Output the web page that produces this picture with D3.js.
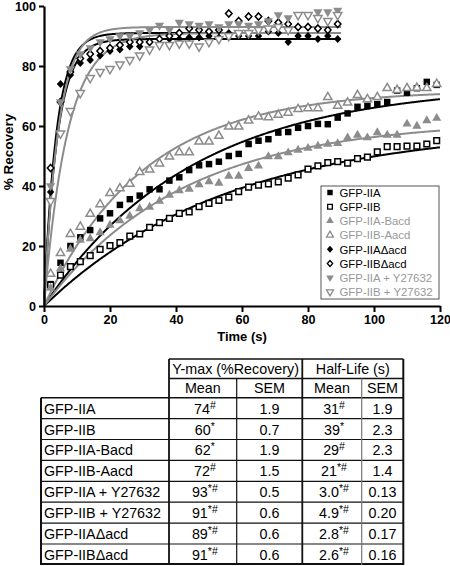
<!DOCTYPE html>
<html><head><meta charset="utf-8">
<script src="https://cdn.jsdelivr.net/npm/d3@7"></script>
<style>
body{margin:0;background:#fff;}
svg{display:block;font-family:"Liberation Sans",Arial,sans-serif;}
</style></head>
<body><svg id="c" width="450" height="566"></svg>
<script>
// ---------- data ----------
const slowTimes = [2,5,8,11,14,17,20,23,26,29,32,35,38,41,44,47,50,53,56,59,62,65,68,71,74,77,80,83,86,89,92,95,98,101,104,107,110,113,116,119];
const fastTimes = [2,5,8,11,14,17,20,23,26,29,32,35,38,41,44,47,50,53,56,59,62,65,68,71,74,77,80,83,86,89];

const iiA = [7.3,14.4,20,22.9,25.3,29.2,30.9,33.7,35.6,36.8,38.9,38.9,41.8,42.9,45.3,46.9,47.3,48.1,50,50.7,54,55.1,55.6,57.8,58,59.4,60,60.7,60.6,62.8,64.2,66.4,66.7,67.3,68,71.8,71.1,72.6,74.7,73.7];
const iiB = [7,10.3,13.1,14.8,16.8,18.9,20.1,21.1,23.3,24,26.2,27.8,29.2,30.9,31.4,33.1,34.2,35.2,36.3,38.1,39.6,40.3,40.7,41.4,42.6,43.7,45.6,46.7,47.8,48.1,47.6,49.1,49.6,51.4,53.1,53.1,53.3,53.3,54,55.1];
const iiABacd = [6,12.5,19,22,22.5,24.5,27,28.5,30,32.5,33,35,37,38.5,39,40.5,41.5,41,43.3,43.3,45.9,46.7,49.8,49.8,51.1,52,52.6,53.3,54,54.2,56.1,57,56.1,57.8,57,57,60.7,60,61.8,62.6];
const iiBAacd = [10.7,17.6,24,26.4,30.7,33.9,37.6,39.2,40.7,44.6,45.5,47.5,49.8,51.2,51.2,54.8,54.8,56.7,59.8,59.8,61.8,63.1,62.9,63.7,64.4,65.6,65.9,65.9,69.6,66.7,67.8,70.3,68.9,69.6,72.6,72,72.6,72.7,72.6,74];
const iiAdacd = [38,74,77,81,82,83.5,85,85.5,86.5,86.5,88,89,89,89,89.5,89.5,90,89.5,91,90,90,90,91.5,91,88,90,90,89,90,89];
const iiBdacd = [46,68,78,82.5,84,85,86,87,88,88,88,89,90,91,92.5,92,91.5,92,97.5,95,96.5,96.5,95,94.5,94,93,93,92.5,92,94];
const iiAY = [40,68,79,84,86,88,89,90,90,91,92,93.5,92,94.5,94,93.5,94,93,94,94,93.5,94,95,97,96,97,97,98,98,98.5];
const iiBY = [35,57.5,65,71,76,78,79,80.5,82,83.5,85.5,87,87,87.5,87.5,86.5,88,89,90,91,91,92,92.5,93,92,97,97,96,95,97];

const seriesNames = ["GFP-IIA","GFP-IIB","GFP-IIA-Bacd","GFP-IIB-Aacd","GFP-IIA\u0394acd","GFP-IIB\u0394acd","GFP-IIA + Y27632","GFP-IIB + Y27632"];
const seriesValues = [iiA,iiB,iiABacd,iiBAacd,iiAdacd,iiBdacd,iiAY,iiBY];
const seriesTimes = [slowTimes,slowTimes,slowTimes,slowTimes,fastTimes,fastTimes,fastTimes,fastTimes];
// fit parameters (from table)
const fitYmax = [74,60,62,72,89,91,93,91];
const fitHalfLife = [31,39,29,21,2.8,2.6,3.0,4.9];
const fitEnd = [120,120,120,120,90,90,90,90];

const xTicks = [0,20,40,60,80,100,120];
const yTicks = [0,20,40,60,80,100];

const tableRows = ["GFP-IIA","GFP-IIB","GFP-IIA-Bacd","GFP-IIB-Aacd","GFP-IIA + Y27632","GFP-IIB + Y27632","GFP-IIA\u0394acd","GFP-IIB\u0394acd"];
const ymaxMean = ["74","60","62","72","93","91","89","91"];
const ymaxSup = ["#","*","*","#","*#","*#","*#","*#"];
const ymaxSem = ["1.9","0.7","1.9","1.5","0.5","0.6","0.6","0.6"];
const hlMean = ["31","39","29","21","3.0","4.9","2.8","2.6"];
const hlSup = ["#","*","#","*#","*#","*#","*#","*#"];
const hlSem = ["1.9","2.3","2.3","1.4","0.13","0.20","0.17","0.16"];

// ---------- styles ----------
const GRAY = "#8c8c8c";
const diamond = {draw(ctx,size){const r=Math.sqrt(size/2);ctx.moveTo(0,-r);ctx.lineTo(r*0.9,0);ctx.lineTo(0,r);ctx.lineTo(-r*0.9,0);ctx.closePath();}};
const styles = [
  {sym:d3.symbolSquare, size:42, fill:"#000", stroke:"none", color:"#000", rot:0},
  {sym:d3.symbolSquare, size:32, fill:"#fff", stroke:"#000", color:"#000", rot:0},
  {sym:d3.symbolTriangle, size:36, fill:GRAY, stroke:"none", color:GRAY, rot:0},
  {sym:d3.symbolTriangle, size:30, fill:"#fff", stroke:GRAY, color:GRAY, rot:0},
  {sym:diamond, size:34, fill:"#000", stroke:"none", color:"#000", rot:0},
  {sym:diamond, size:26, fill:"#fff", stroke:"#000", color:"#000", rot:0},
  {sym:d3.symbolTriangle, size:36, fill:GRAY, stroke:"none", color:GRAY, rot:180},
  {sym:d3.symbolTriangle, size:30, fill:"#fff", stroke:GRAY, color:GRAY, rot:180}
];

const svg = d3.select("#c");
const x = d3.scaleLinear().domain([0,120]).range([44,440]);
const y = d3.scaleLinear().domain([0,100]).range([306,6]);

// fit curves
const line = d3.line().x(d=>x(d[0])).y(d=>y(d[1]));
[0,1,2,3,4,5,6,7].forEach(i=>{
  const k = Math.LN2/fitHalfLife[i];
  const pts = [];
  for(let t=0;t<=fitEnd[i]+1e-9;t+=0.25) pts.push([t, fitYmax[i]*(1-Math.exp(-k*t))]);
  svg.append("path").attr("d",line(pts)).attr("fill","none")
    .attr("stroke",styles[i].color).attr("stroke-width",2);
});

// points
seriesValues.forEach((vals,i)=>{
  const st = styles[i];
  const g = svg.append("g");
  vals.forEach((v,j)=>{
    g.append("path")
      .attr("d", d3.symbol().type(st.sym).size(st.size)())
      .attr("transform",`translate(${x(seriesTimes[i][j])},${y(v)}) rotate(${st.rot})`)
      .attr("fill",st.fill).attr("stroke",st.stroke).attr("stroke-width",1.5);
  });
});

// axes
const ax = svg.append("g").attr("transform","translate(0,306)")
  .call(d3.axisBottom(x).tickValues(xTicks).tickSize(6).tickSizeOuter(0).tickPadding(3));
const ay = svg.append("g").attr("transform","translate(44,0)")
  .call(d3.axisLeft(y).tickValues(yTicks).tickSize(5).tickSizeOuter(0).tickPadding(3));
[ax,ay].forEach(a=>{
  a.select(".domain").attr("stroke","#000").attr("stroke-width",2.2);
  a.selectAll(".tick line").attr("stroke","#000").attr("stroke-width",2);
  a.selectAll(".tick text").attr("font-family","'Liberation Sans', Arial, sans-serif")
    .attr("font-size",12.6).attr("font-weight","bold").attr("fill","#000");
});

svg.append("text").attr("x",242).attr("y",341).attr("text-anchor","middle")
  .attr("font-size",13).attr("font-weight","bold").text("Time (s)");
svg.append("text").attr("transform","translate(13,152) rotate(-90)").attr("text-anchor","middle")
  .attr("font-size",13.5).attr("font-weight","bold").text("% Recovery");

// legend
const lg = svg.append("g");
lg.append("rect").attr("x",321).attr("y",186).attr("width",118).attr("height",113)
  .attr("fill","#fff").attr("stroke","#555").attr("stroke-width",1);
seriesNames.forEach((n,i)=>{
  const st = styles[i];
  const yy = 192.5 + i*14.2;
  lg.append("path").attr("d", d3.symbol().type(st.sym).size(st.size*0.7)())
    .attr("transform",`translate(330,${yy}) rotate(${st.rot})`)
    .attr("fill",st.fill).attr("stroke",st.stroke).attr("stroke-width",1.3);
  lg.append("text").attr("x",339.5).attr("y",yy+4.2).attr("font-size",11.4)
    .attr("fill", st.color==="#000" ? "#000" : "#999").text(n);
});

// table
const colX = [41,169,236.7,302.3,361.7,403.3];
const hTop = 359, h2 = 378.5, dTop = 397.7, rowH = 20.9;
const tb = svg.append("g");
const fs = 14.3;
tb.append("text").attr("x",(colX[1]+colX[3])/2).attr("y",h2-5).attr("text-anchor","middle").attr("font-size",fs).text("Y-max (%Recovery)");
tb.append("text").attr("x",(colX[3]+colX[5])/2).attr("y",h2-5).attr("text-anchor","middle").attr("font-size",fs).text("Half-Life (s)");
["Mean","SEM","Mean","SEM"].forEach((s,i)=>{
  tb.append("text").attr("x",(colX[i+1]+colX[i+2])/2).attr("y",dTop-4.5).attr("text-anchor","middle").attr("font-size",fs).text(s);
});
function supText(cx,cy,main,sup){
  const t = tb.append("text").attr("x",cx).attr("y",cy).attr("text-anchor","middle").attr("font-size",fs);
  t.append("tspan").text(main);
  t.append("tspan").attr("font-size",10.5).attr("dy",-5).text(sup);
}
tableRows.forEach((r,i)=>{
  const by = dTop + (i+1)*rowH - 5;
  tb.append("text").attr("x",colX[0]+3).attr("y",by).attr("font-size",fs).text(r);
  supText((colX[1]+colX[2])/2+2, by, ymaxMean[i], ymaxSup[i]);
  tb.append("text").attr("x",(colX[2]+colX[3])/2).attr("y",by).attr("text-anchor","middle").attr("font-size",fs).text(ymaxSem[i]);
  supText((colX[3]+colX[4])/2+2, by, hlMean[i], hlSup[i]);
  tb.append("text").attr("x",(colX[4]+colX[5])/2).attr("y",by).attr("text-anchor","middle").attr("font-size",fs).text(hlSem[i]);
});
const L = (x1,y1,x2,y2,w,c)=>tb.append("line").attr("x1",x1).attr("y1",y1).attr("x2",x2).attr("y2",y2)
  .attr("stroke",c||"#111").attr("stroke-width",w);
const bottom = dTop + 8*rowH;
L(colX[1],hTop,colX[5],hTop,1.6);
L(colX[1],h2,colX[5],h2,1.4);
L(colX[0],dTop,colX[5],dTop,1.6);
for(let i=1;i<8;i++) L(colX[0],dTop+i*rowH,colX[5],dTop+i*rowH,1.2);
L(colX[0],bottom-1,colX[5],bottom-1,2);
L(colX[0],dTop,colX[0],bottom,2);
L(colX[1],hTop,colX[1],bottom,1.8);
L(colX[2],h2,colX[2],bottom,1.2);
L(colX[3],hTop,colX[3],bottom,1.8);
L(colX[4],h2,colX[4],bottom,1.2,"#777");
L(colX[5],hTop,colX[5],bottom,2);
</script></body></html>
